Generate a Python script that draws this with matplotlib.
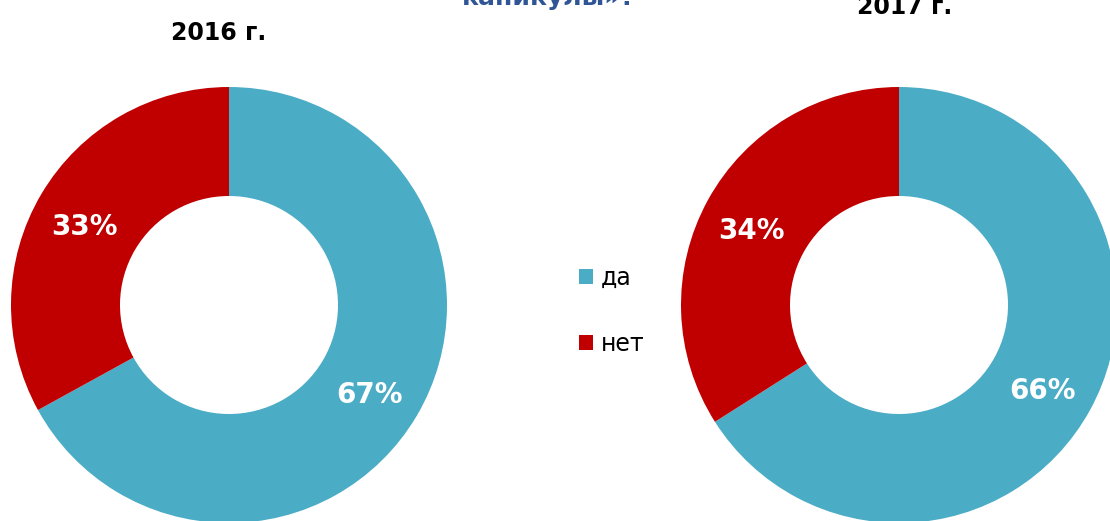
import matplotlib.pyplot as plt

labels = ["да", "нет"]
share_2016 = [67, 33]
share_2017 = [66, 34]
colors = ["#4BACC6", "#C00000"]

fig = plt.figure(figsize=(11.1, 5.21), dpi=100)
ax = fig.add_axes([0, 0, 1, 1])
ax.set_xlim(0, 1110)
ax.set_ylim(0, 521)
ax.set_aspect("equal")
ax.axis("off")

for values, cx in [(share_2016, 229), (share_2017, 899)]:
    wedges, _, autotexts = ax.pie(
        values, colors=colors, startangle=90, counterclock=False,
        center=(cx, 216), radius=218, autopct="%d%%", pctdistance=0.76,
        wedgeprops=dict(width=109, linewidth=0),
        textprops=dict(color="white", fontsize=20, fontweight="bold"))
    # labels sit a touch lower in the original
    for t in autotexts:
        x, y = t.get_position()
        t.set_position((x - 2, y - 6))

ax.set_xlim(0, 1110)
ax.set_ylim(0, 521)

fig.text(219 / 1110, 1 - 33 / 521, "2016 г.", ha="center", va="center",
         fontsize=17, fontweight="bold")
fig.text(905 / 1110, 1 - 7 / 521, "2017 г.", ha="center", va="center",
         fontsize=17, fontweight="bold")
fig.text(549 / 1110, 1 + 2 / 521, "каникулы»?", ha="center", va="center",
         fontsize=18, fontweight="bold", color="#2F5597")

fig.legend(wedges, labels, loc="center left", bbox_to_anchor=(558 / 1110, 1 - 311 / 521),
           frameon=False, fontsize=17, handlelength=0.6, handleheight=0.6,
           handletextpad=0.3, labelspacing=1.8)

fig.savefig("out.png", dpi=100)
